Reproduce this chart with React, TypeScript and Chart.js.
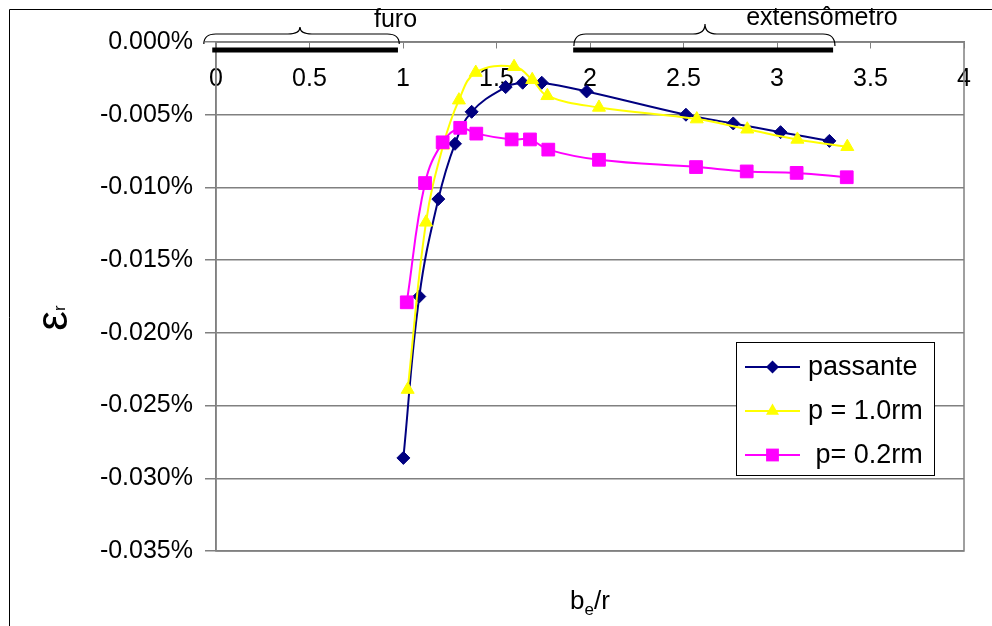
import React, { useEffect, useRef } from 'react';
import { Chart, registerables } from 'chart.js';

Chart.register(...registerables);

// ---- data (x = b_e/r, y = strain in %) ----
const passanteX = [1.002, 1.087, 1.189, 1.278, 1.367, 1.549, 1.64, 1.742, 1.982, 2.513, 2.766, 3.019, 3.28];
const passanteY = [-0.0286, -0.0175, -0.0108, -0.0070, -0.0048, -0.0031, -0.0028, -0.0028, -0.0034, -0.0050, -0.0056, -0.0062, -0.0068];
const p10X = [1.025, 1.123, 1.215, 1.299, 1.389, 1.594, 1.691, 1.772, 2.048, 2.571, 2.841, 3.109, 3.376];
const p10Y = [-0.0239, -0.0124, -0.0071, -0.0040, -0.0021, -0.0017, -0.0026, -0.0037, -0.0045, -0.0053, -0.0060, -0.0067, -0.0072];
const p02X = [1.02, 1.118, 1.212, 1.306, 1.392, 1.581, 1.679, 1.777, 2.048, 2.567, 2.838, 3.105, 3.373];
const p02Y = [-0.0179, -0.0097, -0.0069, -0.0059, -0.0063, -0.0067, -0.0067, -0.0074, -0.0081, -0.0086, -0.0089, -0.0090, -0.0093];

const seriesNames = ['passante', 'p = 1.0rm', ' p= 0.2rm'];
const seriesColors = ['#000080', '#FFFF00', '#FF00FF'];
const seriesMarkers = ['rectRot', 'triangle', 'rect'];

const xTickMin = 0;
const xTickMax = 4;
const xTickStep = 0.5;
const yTickMin = -0.035;
const yTickMax = 0;
const yTickStep = 0.005;

// top annotations, in x-axis units
const furoRange = [-0.02, 0.973];
const furoBrace = [-0.065, 0.449, 0.98];
const furoLabel = { text: 'furo', x: 0.96 };
const extRange = [1.91, 3.3];
const extBrace = [1.914, 2.615, 3.31];
const extLabel = { text: 'extensômetro', x: 3.24 };

const FONT = '"Liberation Sans", Arial, sans-serif';

function pts(xs: number[], ys: number[]) {
  return xs.map((x, i) => ({ x, y: ys[i] }));
}

function drawMarker(ctx: CanvasRenderingContext2D, style: string, x: number, y: number, color: string) {
  ctx.save();
  ctx.fillStyle = color;
  ctx.beginPath();
  if (style === 'rectRot') {
    const r = 6.5;
    ctx.moveTo(x, y - r);
    ctx.lineTo(x + r, y);
    ctx.lineTo(x, y + r);
    ctx.lineTo(x - r, y);
  } else if (style === 'triangle') {
    const r = 7.5;
    ctx.moveTo(x, y - r);
    ctx.lineTo(x + r * 0.866, y + r / 2);
    ctx.lineTo(x - r * 0.866, y + r / 2);
  } else {
    const h = 6.4;
    ctx.rect(x - h, y - h, 2 * h, 2 * h);
  }
  ctx.closePath();
  ctx.fill();
  ctx.restore();
}

function brace(ctx: CanvasRenderingContext2D, x1: number, xm: number, x2: number, yBase: number, yTop: number, yPeak: number) {
  const r = 12;
  ctx.beginPath();
  ctx.moveTo(x1, yBase);
  ctx.quadraticCurveTo(x1, yTop, x1 + r, yTop);
  ctx.lineTo(xm - r, yTop);
  ctx.quadraticCurveTo(xm, yTop, xm, yPeak);
  ctx.quadraticCurveTo(xm, yTop, xm + r, yTop);
  ctx.lineTo(x2 - r, yTop);
  ctx.quadraticCurveTo(x2, yTop, x2, yBase);
  ctx.stroke();
}

const decorPlugin = {
  id: 'decor',
  beforeDraw(chart: any) {
    const { ctx, width, height } = chart;
    ctx.save();
    ctx.fillStyle = '#ffffff';
    ctx.fillRect(0, 0, width, height);
    ctx.strokeStyle = '#000000';
    ctx.lineWidth = 1;
    ctx.beginPath();
    ctx.moveTo(9.5, height);
    ctx.lineTo(9.5, 9.5);
    ctx.lineTo(width, 9.5);
    ctx.stroke();
    ctx.restore();
  },
  beforeDatasetsDraw(chart: any) {
    const { ctx, chartArea } = chart;
    ctx.save();
    ctx.strokeStyle = '#808080';
    ctx.lineWidth = 1.5;
    ctx.strokeRect(chartArea.left, chartArea.top, chartArea.right - chartArea.left, chartArea.bottom - chartArea.top);
    ctx.restore();
  },
  afterDraw(chart: any) {
    const { ctx, chartArea } = chart;
    const xs = chart.scales.x;
    const top = chartArea.top;
    ctx.save();
    // thick bars
    ctx.strokeStyle = '#000000';
    ctx.lineWidth = 5;
    ctx.beginPath();
    ctx.moveTo(xs.getPixelForValue(furoRange[0]), top + 8);
    ctx.lineTo(xs.getPixelForValue(furoRange[1]), top + 8);
    ctx.moveTo(xs.getPixelForValue(extRange[0]), top + 8);
    ctx.lineTo(xs.getPixelForValue(extRange[1]), top + 8);
    ctx.stroke();
    // braces
    ctx.lineWidth = 1.2;
    brace(ctx, xs.getPixelForValue(furoBrace[0]), xs.getPixelForValue(furoBrace[1]), xs.getPixelForValue(furoBrace[2]), top + 2, top - 8, top - 15);
    brace(ctx, xs.getPixelForValue(extBrace[0]), xs.getPixelForValue(extBrace[1]), xs.getPixelForValue(extBrace[2]), top + 4, top - 8, top - 18);
    // labels
    ctx.fillStyle = '#000000';
    ctx.font = `25px ${FONT}`;
    ctx.textAlign = 'center';
    ctx.textBaseline = 'alphabetic';
    ctx.fillText(furoLabel.text, xs.getPixelForValue(furoLabel.x), top - 15);
    ctx.fillText(extLabel.text, xs.getPixelForValue(extLabel.x), top - 17);

    // legend
    const lx = 736.5, ly = 342.5, lw = 198, lh = 133;
    ctx.fillStyle = '#ffffff';
    ctx.fillRect(lx, ly, lw, lh);
    ctx.strokeStyle = '#000000';
    ctx.lineWidth = 1;
    ctx.strokeRect(lx, ly, lw, lh);
    const rows = [367, 411, 455];
    ctx.font = `27px ${FONT}`;
    ctx.textAlign = 'left';
    ctx.textBaseline = 'middle';
    seriesNames.forEach((name, i) => {
      const y = rows[i];
      ctx.strokeStyle = seriesColors[i];
      ctx.lineWidth = 2;
      ctx.beginPath();
      ctx.moveTo(745, y);
      ctx.lineTo(800, y);
      ctx.stroke();
      drawMarker(ctx, seriesMarkers[i], 772.5, y, seriesColors[i]);
      ctx.fillStyle = '#000000';
      ctx.fillText(name, 808, y + 1);
    });

    // y axis title: epsilon with subscript r (rotated)
    ctx.save();
    ctx.translate(67, 318);
    ctx.rotate(-Math.PI / 2);
    ctx.fillStyle = '#000000';
    ctx.textAlign = 'left';
    ctx.textBaseline = 'alphabetic';
    ctx.font = `44px ${FONT}`;
    const we = ctx.measureText('ε').width;
    ctx.font = `17px ${FONT}`;
    const wr = ctx.measureText('r').width;
    const start = -(we + wr) / 2;
    ctx.font = `44px ${FONT}`;
    ctx.fillText('ε', start, 0);
    ctx.font = `17px ${FONT}`;
    ctx.fillText('r', start + we, -2);
    ctx.restore();

    // x axis title: b_e/r
    ctx.save();
    ctx.fillStyle = '#000000';
    ctx.textAlign = 'left';
    ctx.textBaseline = 'alphabetic';
    ctx.font = `26px ${FONT}`;
    const wb = ctx.measureText('b').width;
    const wslash = ctx.measureText('/r').width;
    ctx.font = `17px ${FONT}`;
    const wsub = ctx.measureText('e').width;
    const cx = (chartArea.left + chartArea.right) / 2;
    const x0 = cx - (wb + wsub + wslash) / 2;
    const base = 609;
    ctx.font = `26px ${FONT}`;
    ctx.fillText('b', x0, base);
    ctx.font = `17px ${FONT}`;
    ctx.fillText('e', x0 + wb, base + 6);
    ctx.font = `26px ${FONT}`;
    ctx.fillText('/r', x0 + wb + wsub, base);
    ctx.restore();

    ctx.restore();
  },
};

export default function App() {
  const ref = useRef<HTMLCanvasElement | null>(null);
  useEffect(() => {
    if (!ref.current) return;
    const makeDs = (i: number, xs: number[], ys: number[], radius: number, order: number) => ({
      label: seriesNames[i],
      data: pts(xs, ys),
      borderColor: seriesColors[i],
      backgroundColor: seriesColors[i],
      borderWidth: 2,
      pointStyle: seriesMarkers[i],
      pointRadius: radius,
      pointBorderWidth: 1,
      pointBorderColor: seriesColors[i],
      pointBackgroundColor: seriesColors[i],
      tension: 0.4,
      fill: false,
      order,
    });
    const chart = new Chart(ref.current, {
      type: 'line',
      data: {
        datasets: [
          makeDs(0, passanteX, passanteY, 6.5, 2),
          makeDs(1, p10X, p10Y, 7.5, 1),
          makeDs(2, p02X, p02Y, 9, 0),
        ],
      },
      options: {
        animation: false,
        responsive: false,
        devicePixelRatio: 1,
        layout: { padding: { left: 96, top: 42, right: 28, bottom: 75 } },
        plugins: { legend: { display: false }, tooltip: { enabled: false }, title: { display: false } },
        scales: {
          x: {
            type: 'linear',
            axis: 'x',
            min: xTickMin,
            max: xTickMax,
            position: { y: 0 } as any,
            ticks: {
              stepSize: xTickStep,
              autoSkip: false,
              maxRotation: 0,
              padding: 16,
              color: '#000000',
              font: { family: FONT, size: 25 },
              callback: (v: any) => String(Number(v)),
            },
            grid: { drawOnChartArea: false, drawTicks: true, tickLength: 6, color: '#808080' },
            border: { display: true, color: '#808080', width: 1.5 },
          },
          y: {
            type: 'linear',
            min: yTickMin,
            max: yTickMax,
            ticks: {
              stepSize: yTickStep,
              padding: 12,
              color: '#000000',
              font: { family: FONT, size: 25 },
              callback: (v: any) => Number(v).toFixed(3) + '%',
            },
            grid: { color: '#808080', lineWidth: 1.5, tickLength: 11, drawTicks: true },
            border: { display: true, color: '#808080', width: 1.5 },
            afterFit: (s: any) => { s.width = 120; },
          },
        },
      },
      plugins: [decorPlugin],
    } as any);
    return () => chart.destroy();
  }, []);
  return (
    <div style={{ position: 'fixed', left: 0, top: 0, width: 992, height: 626 }}>
      <canvas ref={ref} width={992} height={626} style={{ display: 'block', width: 992, height: 626 }} />
    </div>
  );
}
